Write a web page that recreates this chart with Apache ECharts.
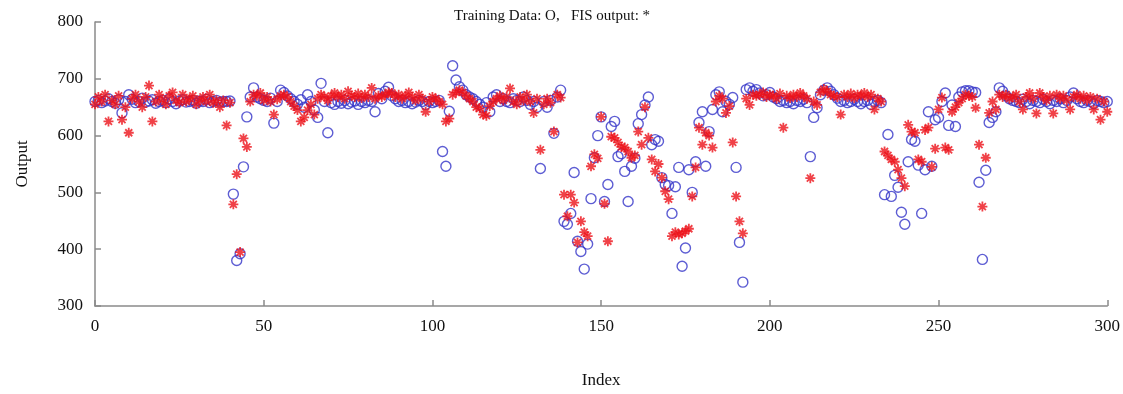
<!DOCTYPE html>
<html>
<head>
<meta charset="utf-8">
<script src="https://cdn.jsdelivr.net/npm/echarts@6/dist/echarts.min.js"></script>
<style>html,body{margin:0;padding:0;background:#fff}#c{width:1123px;height:394px}</style>
</head>
<body>
<div id="c"></div>
<script>
// Training data (blue circles), index 0..300
var trainingData = [
660,662,658,661,665,660,657,663,640,660,
672,664,658,660,666,659,661,663,657,660,
662,658,665,660,656,661,663,659,660,662,
657,661,660,664,658,660,662,659,660,660,
661,497,380,392,545,633,668,684,668,665,
662,660,666,622,660,680,676,670,665,660,
655,663,650,672,660,645,632,692,660,605,
658,655,660,657,662,656,659,661,655,660,
658,662,660,642,674,665,678,685,670,665,
660,662,658,660,656,659,662,660,655,660,
658,660,662,572,546,643,723,698,686,680,
672,668,665,660,655,650,658,642,668,672,
660,665,660,658,665,662,660,668,662,655,
660,650,542,660,650,662,604,668,680,449,
444,463,535,414,396,365,409,489,561,600,
633,484,514,616,625,563,568,537,484,546,
560,621,637,654,668,584,593,590,526,514,
512,463,510,544,370,402,540,500,554,623,
642,546,607,646,672,677,642,660,655,667,
544,412,342,681,684,678,681,675,670,672,
676,668,665,660,662,658,660,656,662,660,
664,658,563,632,649,672,680,684,678,672,
666,660,662,658,660,664,660,656,660,662,
655,660,662,658,496,602,493,530,509,465,
444,554,593,590,548,463,540,642,546,628,
632,660,675,618,654,616,668,677,679,679,
677,676,518,382,539,623,632,642,684,678,
670,665,662,660,658,664,660,656,662,660,
658,664,660,656,662,660,665,658,662,668,
675,665,660,658,662,660,656,662,660,658,
660
];
// FIS output (red asterisks), index 0..300
var fisOutput = [
655,668,660,672,625,662,655,670,628,650,
605,665,672,660,650,668,688,625,660,672,
663,655,670,676,662,658,672,660,665,670,
655,662,668,660,672,658,662,650,662,618,
658,479,532,395,595,580,660,672,670,675,
662,668,660,637,664,670,672,668,660,652,
645,625,632,645,655,637,665,672,668,662,
670,675,668,672,665,678,670,668,674,666,
672,668,684,665,670,668,672,676,675,668,
672,665,670,676,668,662,672,665,642,660,
668,665,660,655,625,630,672,676,680,676,
670,665,660,650,648,637,635,652,660,665,
670,662,668,683,660,655,668,662,672,660,
640,665,575,655,665,658,607,672,667,496,
458,496,482,412,449,430,423,546,567,560,
633,480,414,598,596,588,580,579,572,561,
565,607,584,650,596,558,537,550,526,502,
488,423,430,426,428,432,436,493,544,614,
584,605,600,579,660,670,665,640,652,588,
493,449,428,665,654,672,670,672,676,668,
672,670,665,674,614,670,666,672,668,675,
670,665,525,660,654,676,682,678,672,670,
668,637,672,668,674,666,672,670,675,668,
672,646,665,660,572,565,558,554,540,525,
511,619,607,605,558,554,610,614,545,577,
646,667,579,575,642,650,658,665,672,670,
668,649,584,475,561,640,660,646,672,668,
672,665,668,672,660,646,668,675,665,639,
675,668,662,670,639,672,665,670,662,646,
668,672,665,670,662,668,646,665,628,660,
642
];
var xTicks = [0, 50, 100, 150, 200, 250, 300];
var yTicks = [300, 400, 500, 600, 700, 800];

var bluePts = trainingData.map(function (v, i) { return [i, v]; });
var redPts = fisOutput.map(function (v, i) { return [i, v]; });

var serif = '"Liberation Serif", "DejaVu Serif", serif';
var chart = echarts.init(document.getElementById('c'), null, {renderer: 'canvas'});
chart.setOption({
  animation: false,
  backgroundColor: '#ffffff',
  title: {
    text: 'Training Data: O,   FIS output: *',
    left: 449, top: 4,
    textStyle: {fontFamily: serif, fontSize: 15, fontWeight: 'normal', color: '#111'}
  },
  grid: {left: 95, right: 15, top: 22, bottom: 87, containLabel: false},
  xAxis: {
    type: 'value', min: xTicks[0], max: xTicks[xTicks.length - 1], interval: 50,
    name: 'Index', nameLocation: 'middle', nameGap: 66,
    nameTextStyle: {fontFamily: serif, fontSize: 17, color: '#111'},
    axisLine: {show: true, onZero: false, lineStyle: {color: '#8a8a8a', width: 1.5}},
    axisTick: {show: true, inside: true, length: 6, lineStyle: {color: '#8a8a8a', width: 1.5}},
    axisLabel: {margin: 12, fontFamily: serif, fontSize: 17, color: '#111'},
    splitLine: {show: false}
  },
  yAxis: {
    type: 'value', min: yTicks[0], max: yTicks[yTicks.length - 1], interval: 100,
    name: 'Output', nameLocation: 'middle', nameGap: 64, nameRotate: 90,
    nameTextStyle: {fontFamily: serif, fontSize: 17, color: '#111'},
    axisLine: {show: true, onZero: false, lineStyle: {color: '#8a8a8a', width: 1.5}},
    axisTick: {show: true, inside: true, length: 6, lineStyle: {color: '#8a8a8a', width: 1.5}},
    axisLabel: {margin: 12, fontFamily: serif, fontSize: 17, color: '#111'},
    splitLine: {show: false}
  },
  series: [
    {
      name: 'Training Data', type: 'scatter', data: bluePts,
      symbol: 'circle', symbolSize: 10,
      itemStyle: {color: 'rgba(0,0,0,0)', borderColor: '#3434c8', borderWidth: 1.4},
      z: 2
    },
    {
      name: 'FIS output', type: 'scatter', data: redPts,
      symbol: 'path://M5,0L5,10M0,5L10,5M1.5,1.5L8.5,8.5M1.5,8.5L8.5,1.5',
      symbolSize: 10,
      itemStyle: {color: 'rgba(0,0,0,0)', borderColor: '#ec1219', borderWidth: 1.8},
      z: 3
    }
  ]
});
</script>
</body>
</html>
